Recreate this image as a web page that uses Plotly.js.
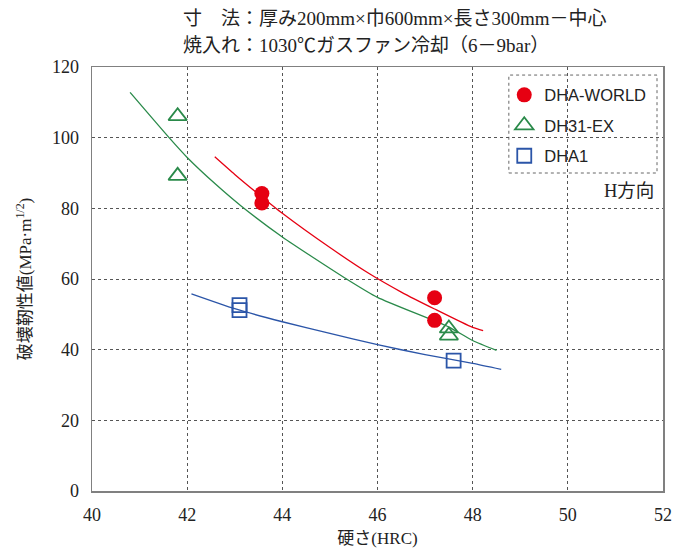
<!DOCTYPE html>
<html>
<head>
<meta charset="utf-8">
<script src="https://cdn.plot.ly/plotly-3.0.1.min.js"></script>
<style>html,body{margin:0;padding:0;background:#fff;}#chart{width:677px;height:554px;}</style>
</head>
<body>
<div id="chart"></div>
<script>
// Measured points
const worldX = [43.57, 43.57, 47.2, 47.2];
const worldY = [84.2, 81.5, 54.7, 48.3];
const ex31X = [41.8, 41.8, 47.5, 47.5];
const ex31Y = [106.1, 89.2, 46.0, 44.0];
const dha1X = [43.1, 43.1, 47.6];
const dha1Y = [52.6, 51.2, 36.9];

// Trend curves
const worldFitX = [42.58, 43.0, 43.5, 44.0, 45.0, 45.84, 46.5, 47.2, 48.0, 48.22];
const worldFitY = [94.6, 89.6, 84.0, 78.6, 68.9, 61.4, 56.3, 51.5, 46.3, 45.4];
const ex31FitX = [40.8, 41.62, 42.0, 42.6, 43.14, 44.0, 45.35, 46.0, 47.5, 48.0, 48.5];
const ex31FitY = [112.8, 100.0, 94.4, 86.8, 80.6, 71.9, 60.0, 54.8, 46.4, 42.6, 39.8];
const dha1FitX = [42.09, 43.0, 44.0, 45.0, 46.0, 47.0, 48.0, 48.6];
const dha1FitY = [55.8, 51.6, 47.9, 44.6, 41.4, 38.6, 36.1, 34.4];

const xTicks = [40, 42, 44, 46, 48, 50, 52];
const yTicks = [0, 20, 40, 60, 80, 100, 120];

const RED = '#e60012', GREEN = '#2a8a4a', BLUE = '#2b55a8';
const SERIF = '"Liberation Serif", "Noto Sans CJK JP", serif';
const SANS = '"Liberation Sans", Arial, sans-serif';

const traces = [
  {x: worldFitX, y: worldFitY, mode: 'lines', line: {color: RED, width: 1.3, shape: 'spline', smoothing: 0.6}, showlegend: false, hoverinfo: 'skip'},
  {x: ex31FitX, y: ex31FitY, mode: 'lines', line: {color: GREEN, width: 1.3, shape: 'spline', smoothing: 0.6}, showlegend: false, hoverinfo: 'skip'},
  {x: dha1FitX, y: dha1FitY, mode: 'lines', line: {color: BLUE, width: 1.3, shape: 'spline', smoothing: 0.6}, showlegend: false, hoverinfo: 'skip'},
  {x: worldX, y: worldY, mode: 'markers', name: 'DHA-WORLD', legendgroup: 'a',
   marker: {symbol: 'circle', size: 15, color: RED}},
  {x: ex31X, y: ex31Y, mode: 'markers', name: 'DH31-EX', legendgroup: 'b',
   marker: {symbol: 'triangle-up-open', size: 16, color: GREEN, line: {width: 1.8, color: GREEN}}},
  {x: dha1X, y: dha1Y, mode: 'markers', name: 'DHA1', legendgroup: 'c',
   marker: {symbol: 'square-open', size: 14, color: BLUE, line: {width: 1.8, color: BLUE}}}
];

const axisCommon = {
  showline: true, linecolor: '#808080', linewidth: 1.5, mirror: true,
  showgrid: true, gridcolor: '#555', griddash: 'dot', gridwidth: 1,
  zeroline: false, ticks: '', tickfont: {family: SERIF, size: 18, color: '#222'}
};

const layout = {
  width: 677, height: 554,
  margin: {l: 92, r: 14, t: 67, b: 63},
  paper_bgcolor: '#fff', plot_bgcolor: '#fff',
  xaxis: Object.assign({}, axisCommon, {
    range: [40, 52], tickvals: xTicks, ticktext: xTicks.map(String), ticklabelstandoff: 7,
    title: {text: '硬さ(HRC)', font: {family: SERIF, size: 17, color: '#222'}, standoff: 8}
  }),
  yaxis: Object.assign({}, axisCommon, {
    range: [0, 120], tickvals: yTicks, ticktext: yTicks.map(String), ticklabelstandoff: 8,
    title: {text: '破壊靭性値(MPa·m<sup>1/2</sup>)', font: {family: SERIF, size: 17, color: '#222'}, standoff: 16}
  }),
  showlegend: true,
  legend: {
    x: 0.722, y: 0.975, xanchor: 'left', yanchor: 'top',
    bgcolor: 'rgba(0,0,0,0)', borderwidth: 0,
    font: {family: SANS, size: 16.5, color: '#222'},
    tracegroupgap: 6, itemwidth: 30
  },
  shapes: [
    {type: 'rect', xref: 'paper', yref: 'paper', x0: 0.730, x1: 0.9895, y0: 0.75, y1: 0.981,
     layer: 'between', fillcolor: '#fff', line: {color: '#666', width: 1, dash: 'dot'}}
  ],
  annotations: [
    {xref: 'paper', yref: 'paper', x: 0.988, y: 0.708, xanchor: 'right', yanchor: 'middle',
     text: 'H方向', showarrow: false, font: {family: SERIF, size: 18.5, color: '#222'}},
    {xref: 'paper', yref: 'paper', x: (181 - 92) / 571, y: 1 + (67 - 18) / 424, xanchor: 'left', yanchor: 'middle',
     text: '寸　法：厚み200mm×巾600mm×長さ300mm－中心', showarrow: false, align: 'left',
     font: {family: SERIF, size: 19, color: '#222'}},
    {xref: 'paper', yref: 'paper', x: (181 - 92) / 571, y: 1 + (67 - 45) / 424, xanchor: 'left', yanchor: 'middle',
     text: '焼入れ：1030℃ガスファン冷却（6－9bar）', showarrow: false, align: 'left',
     font: {family: SERIF, size: 19, color: '#222'}}
  ]
};

Plotly.newPlot('chart', traces, layout, {displayModeBar: false, staticPlot: true});
</script>
</body>
</html>
